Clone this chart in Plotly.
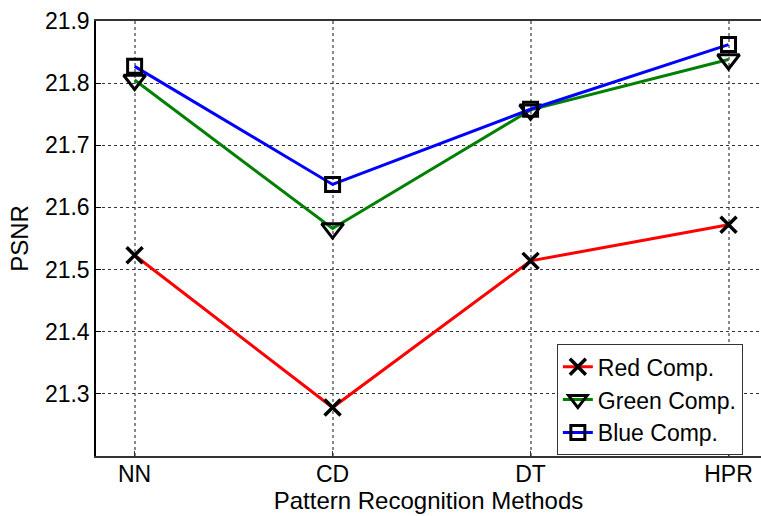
import plotly.graph_objects as go

methods = ["NN", "CD", "DT", "HPR"]
red_comp = [21.523, 21.278, 21.514, 21.572]
green_comp = [21.805, 21.566, 21.757, 21.838]
blue_comp = [21.827, 21.637, 21.758, 21.862]
y_ticks = [21.3, 21.4, 21.5, 21.6, 21.7, 21.8, 21.9]

FONT = "Liberation Sans, Arial, sans-serif"

fig = go.Figure()
fig.add_trace(go.Scatter(
    x=methods, y=red_comp, name="Red Comp.", mode="lines+markers",
    line=dict(color="#FF0000", width=3),
    marker=dict(symbol="x-thin-open", size=16, color="black",
                line=dict(color="black", width=3.5)),
))
fig.add_trace(go.Scatter(
    x=methods, y=green_comp, name="Green Comp.", mode="lines+markers",
    line=dict(color="#008000", width=3),
    marker=dict(symbol="triangle-down-open", size=19, color="black",
                line=dict(color="black", width=3)),
))
fig.add_trace(go.Scatter(
    x=methods, y=blue_comp, name="Blue Comp.", mode="lines+markers",
    line=dict(color="#0000FF", width=3),
    marker=dict(symbol="square-open", size=14, color="black",
                line=dict(color="black", width=3)),
))

fig.update_layout(
    width=761, height=516,
    margin=dict(l=96, r=0, t=21, b=60, autoexpand=False),
    paper_bgcolor="white", plot_bgcolor="white",
    font=dict(family=FONT, size=23, color="black"),
    showlegend=True,
    legend=dict(
        x=0.693, y=0.257, xanchor="left", yanchor="top",
        bgcolor="white", bordercolor="#333333", borderwidth=1,
        font=dict(family=FONT, size=23, color="black"),
        tracegroupgap=0,
    ),
)
fig.update_xaxes(
    type="category", range=[-0.195, 3.164],
    showline=True, linecolor="#333333", linewidth=1.5, mirror=True,
    showgrid=True, gridcolor="#888888", griddash="dot", gridwidth=1.5,
    ticks="inside", ticklen=5, tickcolor="#333333",
    tickfont=dict(size=23), ticklabelstandoff=-3,
    title=dict(text="Pattern Recognition Methods", font=dict(size=24), standoff=2),
    zeroline=False, automargin=False,
)
fig.update_yaxes(
    range=[21.2, 21.9], tickvals=y_ticks, ticktext=[f"{v:.1f}" for v in y_ticks],
    showline=True, linecolor="black", linewidth=1.5, mirror=False,
    showgrid=True, gridcolor="#333333", griddash="3px,3px", gridwidth=1,
    ticks="inside", ticklen=5, tickcolor="black",
    tickfont=dict(size=23),
    title=dict(text="PSNR", font=dict(size=24), standoff=9),
    zeroline=False, automargin=False,
)

fig.write_html(
    "out.html",
    config={"displayModeBar": False},
    post_script="document.body.style.margin='0';document.body.style.overflow='hidden';",
)
